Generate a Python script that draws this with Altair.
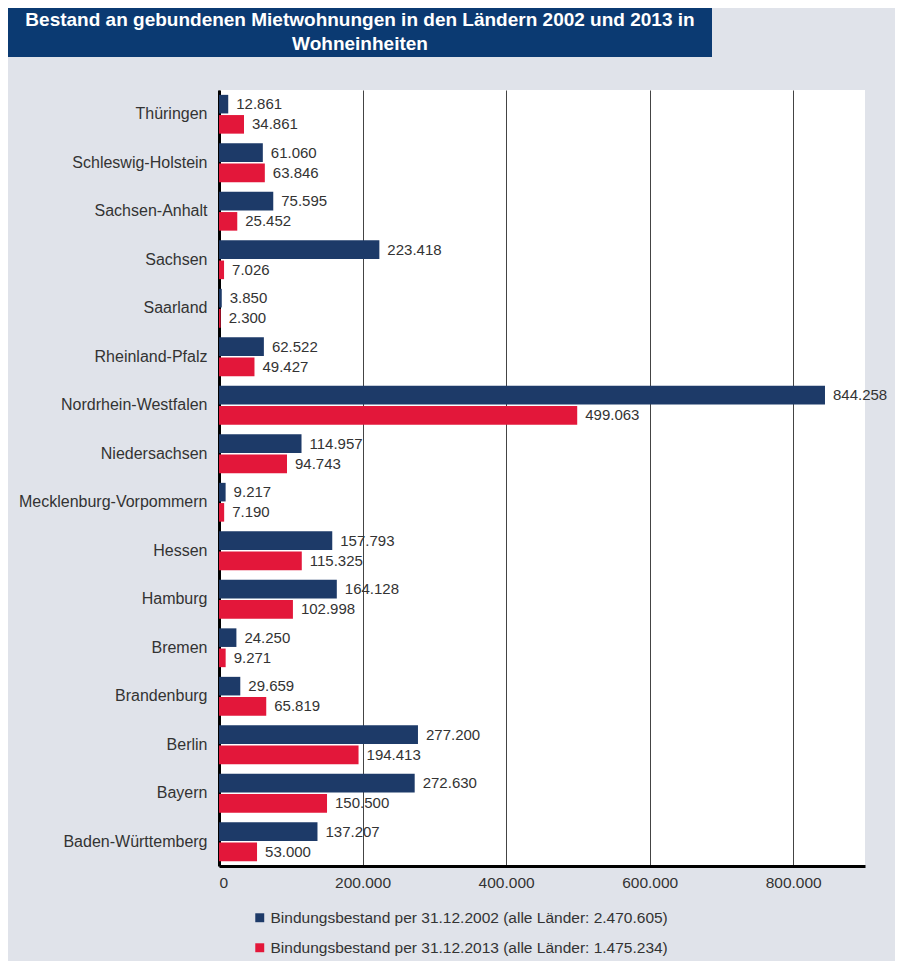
import altair as alt
import pandas as pd

laender = [
    "Thüringen", "Schleswig-Holstein", "Sachsen-Anhalt", "Sachsen", "Saarland",
    "Rheinland-Pfalz", "Nordrhein-Westfalen", "Niedersachsen",
    "Mecklenburg-Vorpommern", "Hessen", "Hamburg", "Bremen", "Brandenburg",
    "Berlin", "Bayern", "Baden-Württemberg",
]
bestand_2002 = [12861, 61060, 75595, 223418, 3850, 62522, 844258, 114957,
                9217, 157793, 164128, 24250, 29659, 277200, 272630, 137207]
bestand_2013 = [34861, 63846, 25452, 7026, 2300, 49427, 499063, 94743,
                7190, 115325, 102998, 9271, 65819, 194413, 150500, 53000]
serien = [
    "Bindungsbestand per 31.12.2002 (alle Länder: 2.470.605)",
    "Bindungsbestand per 31.12.2013 (alle Länder: 1.475.234)",
]
farben = ["#1d3a68", "#e3173a"]
x_ticks = [0, 200000, 400000, 600000, 800000]
titel = ["Bestand an gebundenen Mietwohnungen in den Ländern 2002 und 2013 in",
         "Wohneinheiten"]

rows = []
for i, land in enumerate(laender):
    rows.append({"Land": land, "Serie": serien[0], "Wert": bestand_2002[i]})
    rows.append({"Land": land, "Serie": serien[1], "Wert": bestand_2013[i]})
df = pd.DataFrame(rows)

FONT = "Liberation Sans"

base = alt.Chart(df).transform_calculate(
    label="replace(format(datum.Wert, ','), ',', '.')"
).encode(
    y=alt.Y("Land:N", sort=laender, title=None,
            scale=alt.Scale(paddingInner=0.2, paddingOuter=0.1),
            axis=alt.Axis(ticks=False, labelPadding=12, labelFontSize=16,
                          labelColor="#333333", labelFont=FONT, labelLimit=400,
                          domainColor="#000000", domainWidth=3)),
    yOffset=alt.YOffset("Serie:N", sort=serien,
                        scale=alt.Scale(paddingInner=0.08)),
)

bars = base.mark_bar().encode(
    x=alt.X("Wert:Q", title=None,
            scale=alt.Scale(domain=[0, 900000], nice=False),
            axis=alt.Axis(values=x_ticks, ticks=False, labelPadding=9,
                          labelFontSize=15.5, labelColor="#333333",
                          labelFont=FONT, grid=True, gridColor="#444444",
                          gridWidth=1, domainColor="#000000", domainWidth=3,
                          labelExpr="replace(format(datum.value, ','), ',', '.')")),
    color=alt.Color("Serie:N", sort=serien,
                    scale=alt.Scale(domain=serien, range=farben),
                    legend=alt.Legend(title=None, orient="none", legendX=33,
                                      legendY=820, direction="vertical",
                                      symbolType="square", symbolSize=80,
                                      symbolStrokeWidth=0, labelFontSize=15.5,
                                      labelColor="#333333", labelFont=FONT,
                                      rowPadding=13, labelOffset=3,
                                      padding=0, labelLimit=600)),
)

texts = base.mark_text(align="left", baseline="middle", dx=8, fontSize=15,
                       font=FONT, color="#333333").encode(
    x=alt.X("Wert:Q"),
    text=alt.Text("label:N"),
)

title_data = alt.Data(values=[{"a": 1}])

title_box = alt.Chart(title_data).mark_rect(
    color="#0b3a72"
).encode(
    x=alt.value(-211), x2=alt.value(493),
    y=alt.value(-85), y2=alt.value(-33),
)

title_text = alt.Chart(title_data).mark_text(
    text=titel, align="center", baseline="top", lineHeight=24,
    font=FONT, fontSize=19, fontWeight="bold", color="#ffffff",
).encode(
    x=alt.value(141), y=alt.value(-79),
)

chart = alt.layer(title_box, title_text, bars, texts).properties(
    width=646,
    height=776,
    autosize=alt.AutoSizeParams(type="none"),
    padding={"left": 211, "top": 82, "right": 30, "bottom": 95},
).configure(background="#e0e3ea").configure_view(fill="#ffffff", strokeWidth=0)

chart.save("out.html", embed_options={"renderer": "svg", "actions": False})
